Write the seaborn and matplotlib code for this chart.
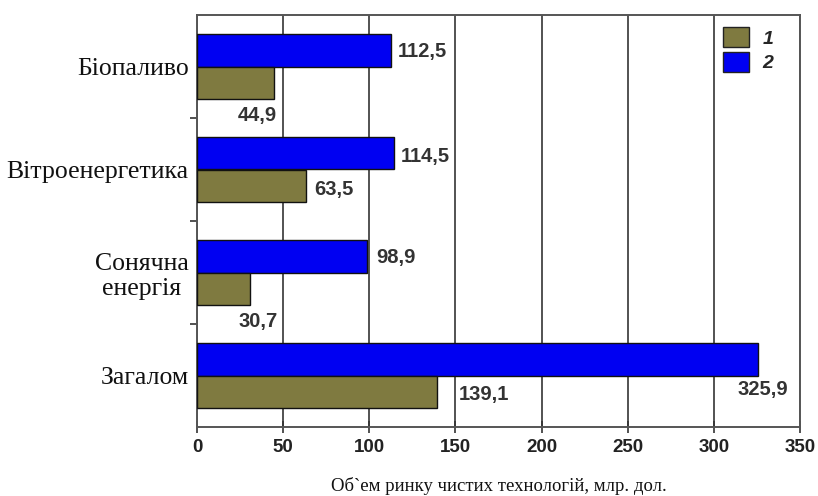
import matplotlib
matplotlib.use("Agg")
import matplotlib.pyplot as plt
import seaborn as sns
import pandas as pd
import numpy as np

categories = ["Біопаливо", "Вітроенергетика", "Сонячна\nенергія", "Загалом"]
series1 = [44.9, 63.5, 30.7, 139.1]   # 1 (olive)
series2 = [112.5, 114.5, 98.9, 325.9]  # 2 (blue)
x_ticks = [0, 50, 100, 150, 200, 250, 300, 350]
x_label = "Об`ем ринку чистих технологій, млр. дол."

# label placement (style): (dx px, dy px, ha)
place2 = [(7, -1, "left"), (6, -3, "left"), (9, -1, "left"), (4, -30, "center")]
place1 = [(-17, -33, "center"), (8, -4, "left"), (8, -33, "center"), (22, -3, "left")]

sns.set_theme(style="white")
plt.rcParams["font.family"] = ["Liberation Sans", "DejaVu Sans"]

df = pd.DataFrame({
    "cat": categories * 2,
    "val": series2 + series1,
    "ser": ["2"] * 4 + ["1"] * 4,
})

col1 = "#7f7a40"
col2 = "#0000f2"

fig = plt.figure(figsize=(8.18, 4.96), dpi=100)
ax = fig.add_axes([197 / 818, 1 - 427 / 496, 603 / 818, 412 / 496])

sns.barplot(data=df, y="cat", x="val", hue="ser", hue_order=["2", "1"],
            palette={"2": col2, "1": col1}, orient="h", width=0.64, saturation=1,
            edgecolor="#111111", linewidth=1.0, ax=ax, legend=False, zorder=3)

ax.set_xlim(0, 350)
ax.set_ylim(3.5, -0.5)
ax.set_xticks(x_ticks)
ax.set_xticklabels([str(t) for t in x_ticks], fontsize=13.5, fontweight="bold", color="#222222")
ax.set_yticks(range(len(categories)))
ax.set_yticklabels(categories, fontsize=18.5, family=["Liberation Serif", "DejaVu Serif"],
                   color="#111111", ha="right", multialignment="center")
ax.tick_params(axis="y", which="major", length=0, pad=6)
ax.set_yticks([0.5, 1.5, 2.5], minor=True)
ax.tick_params(axis="y", which="minor", length=5, width=1.2, color="#333333", direction="out", left=True)
ax.tick_params(axis="x", which="major", length=9, width=1.2, color="#333333", direction="inout", bottom=True, pad=4)
ax.set_xlabel(x_label, fontsize=13.5, family=["Liberation Serif", "DejaVu Serif"], color="#111111", labelpad=15)
ax.set_ylabel("")

ax.grid(axis="x", color="#444444", linewidth=1.3, zorder=0)
ax.set_axisbelow(True)
for s in ax.spines.values():
    s.set_visible(True)
    s.set_color("#555555")
    s.set_linewidth(1.4)

def fmt(v):
    return f"{v:.1f}".replace(".", ",")

for cont, vals, places in [(ax.containers[0], series2, place2), (ax.containers[1], series1, place1)]:
    for bar, v, (dx, dy, ha) in zip(cont, vals, places):
        yc = bar.get_y() + bar.get_height() / 2
        ax.annotate(fmt(v), xy=(bar.get_width(), yc), xytext=(dx, dy),
                    textcoords="offset pixels", ha=ha, va="center",
                    fontsize=14.5, fontweight="bold", color="#333333", zorder=5)

from matplotlib.patches import Patch
handles = [Patch(facecolor=col1, edgecolor="#222222", linewidth=1.0),
           Patch(facecolor=col2, edgecolor="#222222", linewidth=1.0)]
leg = ax.legend(handles, ["1", "2"], loc="upper left", frameon=False,
                prop={"weight": "bold", "style": "italic", "size": 14},
                handlelength=1.3, handleheight=1.25, handletextpad=0.7,
                labelspacing=0.2, borderaxespad=0.0, bbox_to_anchor=(0.86, 0.99))

fig.savefig("out.png", dpi=100)
